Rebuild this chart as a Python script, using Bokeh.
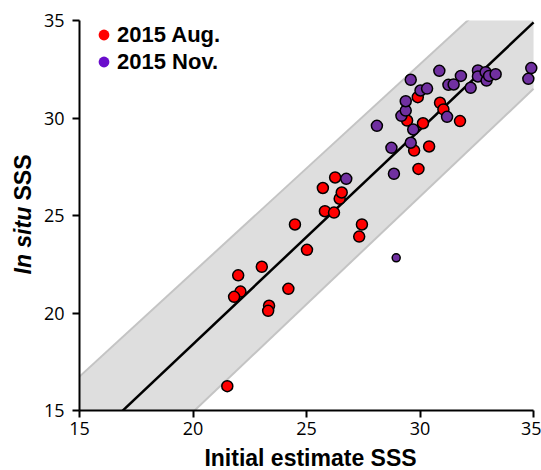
from bokeh.plotting import figure
from bokeh.models import Range1d, FixedTicker, Label, Legend, LegendItem
from bokeh.layouts import row, column
from bokeh.embed import file_html
from bokeh.resources import INLINE
import math

# ---- data ----
series_names = ["2015 Aug.", "2015 Nov."]
aug_x = [21.51, 21.99, 22.09, 21.81, 23.03, 23.35, 23.31, 24.20, 25.02, 24.49,
         25.81, 26.21, 25.72, 26.46, 26.55, 26.26, 27.44, 27.32, 29.93, 30.40,
         29.74, 30.13, 29.43, 29.90, 30.88, 31.03, 31.76]
aug_y = [16.25, 21.93, 21.10, 20.83, 22.37, 20.37, 20.11, 21.24, 23.24, 24.54,
         25.22, 25.15, 26.41, 25.86, 26.18, 26.95, 24.54, 23.92, 27.39, 28.54,
         28.33, 29.73, 29.87, 31.07, 30.78, 30.44, 29.84]
nov_x = [26.75, 28.85, 28.74, 29.59, 29.70, 28.10, 29.18, 29.37, 29.37, 30.02,
         30.31, 29.59, 30.85, 31.19, 31.25, 31.48, 31.80, 32.23, 32.55, 32.55,
         32.89, 32.93, 33.04, 33.33, 34.90, 34.77]
nov_y = [26.88, 27.14, 28.47, 28.73, 29.41, 29.60, 30.11, 30.38, 30.86, 31.41,
         31.51, 31.96, 32.42, 30.06, 31.70, 31.72, 32.16, 31.55, 32.44, 32.13,
         32.35, 31.92, 32.16, 32.25, 32.56, 32.01]
nov_out_x = [28.95]
nov_out_y = [22.83]
fit_x = [15, 35]
fit_y = [12.9, 34.9]
band_x = [15, 35]
band_lower = [9.4, 31.5]
band_upper = [16.74, 38.1]
ticks = [15, 20, 25, 30, 35]
x_title = "Initial estimate SSS"
y_title_italic = "In situ"
y_title_rest = "SSS"

RED = "#ff0000"
PURPLE = "#7030a0"
NAN = float("nan")

p = figure(width=501, height=446, x_range=Range1d(15, 35.35), y_range=Range1d(15, 35),
           output_backend="svg", toolbar_location=None,
           min_border_left=38, min_border_right=0, min_border_top=20, min_border_bottom=36)
p.outline_line_color = None
p.grid.visible = False

p.varea(x=band_x, y1=band_lower, y2=band_upper, fill_color="#dedede")
p.line(band_x, band_lower, line_color="#c4c4c4", line_width=2)
p.line(band_x, band_upper, line_color="#c4c4c4", line_width=2)
p.line(fit_x, fit_y, line_color="black", line_width=2.5)

p.scatter(nov_out_x, nov_out_y, size=8, fill_color=PURPLE, line_color="black", line_width=1.5)
p.scatter(aug_x, aug_y, size=11, fill_color=RED, line_color="black", line_width=1.5)
p.scatter(nov_x, nov_y, size=11, fill_color=PURPLE, line_color="black", line_width=1.5)

# legend (dots without outline)
r1 = p.scatter(x=[NAN], y=[NAN], fill_color=RED, line_color=None)
r2 = p.scatter(x=[NAN], y=[NAN], fill_color="#6a0dcc", line_color=None)
legend = Legend(items=[LegendItem(label=series_names[0], renderers=[r1]),
                       LegendItem(label=series_names[1], renderers=[r2])],
                location=(11, 335), margin=0, padding=0, glyph_width=27, glyph_height=27,
                label_standoff=0, spacing=0, border_line_color=None,
                background_fill_alpha=0, label_text_font="Liberation Sans",
                label_text_font_style="bold", label_text_font_size="22px",
                label_text_color="black",
                label_text_baseline="middle", label_height=27)
p.add_layout(legend)

for ax in (p.xaxis, p.yaxis):
    ax.ticker = FixedTicker(ticks=ticks)
    ax.bounds = (15, 35)
    ax.axis_line_width = 2
    ax.major_tick_line_width = 2
    ax.major_tick_out = 7
    ax.major_tick_in = 0
    ax.minor_tick_line_color = None
    ax.major_label_text_font = "Open Sans"
    ax.major_label_text_font_size = "18px"
    ax.major_label_text_color = "black"
    ax.axis_line_color = "black"
    ax.major_tick_line_color = "black"

p.xaxis.major_label_standoff = 4
p.yaxis.major_label_standoff = 8


def text_panel(w, h):
    f = figure(width=w, height=h, x_range=Range1d(0, 1), y_range=Range1d(0, 1),
               output_backend="svg", toolbar_location=None,
               x_axis_location=None, y_axis_location=None, min_border=0)
    f.outline_line_color = None
    f.grid.visible = False
    return f


# y-axis title with mixed styles (left strip)
ylab = text_panel(40, 446)
ylab.add_layout(Label(x=22, y=136, x_units="screen", y_units="screen", text=y_title_italic,
                      angle=math.pi / 2, text_align="left", text_baseline="middle",
                      text_font="Liberation Sans", text_font_style="bold italic",
                      text_font_size="23px", text_color="black"))
ylab.add_layout(Label(x=22, y=210, x_units="screen", y_units="screen", text=y_title_rest,
                      angle=math.pi / 2, text_align="left", text_baseline="middle",
                      text_font="Liberation Sans", text_font_style="bold",
                      text_font_size="23px", text_color="black"))

# x-axis title (bottom strip)
xlab = text_panel(541, 24)
xlab.add_layout(Label(x=310, y=13, x_units="screen", y_units="screen", text=x_title,
                      text_align="center", text_baseline="alphabetic",
                      text_font="Liberation Sans", text_font_style="bold",
                      text_font_size="23px", text_color="black"))

layout = column(row(ylab, p), xlab)
open("out.html", "w").write(file_html(layout, INLINE))
